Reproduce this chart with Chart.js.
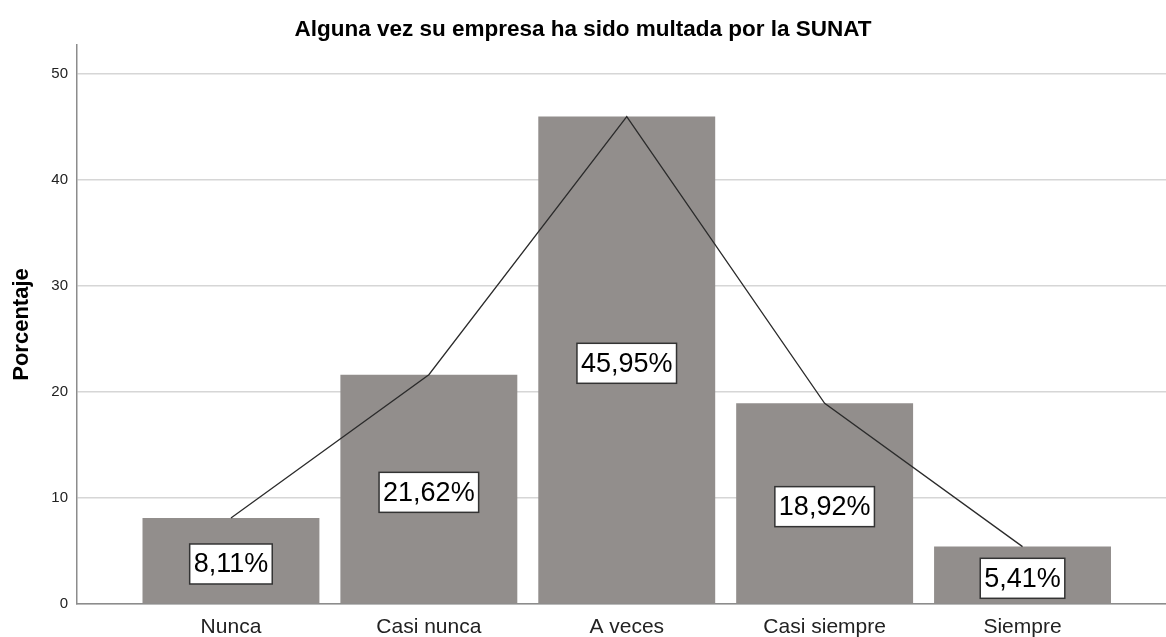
<!DOCTYPE html>
<html>
<head>
<meta charset="utf-8">
<script src="https://cdn.jsdelivr.net/npm/chart.js@4.4.1/dist/chart.umd.min.js"></script>
<style>
  html, body { margin: 0; padding: 0; background: #fff; }
  #wrap { width: 1166px; height: 637px; }
</style>
</head>
<body>
<div id="wrap"><canvas id="multaChart"></canvas></div>
<script>
// Alguna vez su empresa ha sido multada por la SUNAT
var categories = ['Nunca', 'Casi nunca', 'A veces', 'Casi siempre', 'Siempre'];
var percentages = [8.11, 21.62, 45.95, 18.92, 5.41];
var yTicks = [0, 10, 20, 30, 40, 50];

var points = categories.map(function (c, i) {
  return { x: i, y: percentages[i] };
});

// white boxes with the percentage, centred in each bar
var boxLabels = {
  id: 'boxLabels',
  afterDatasetsDraw: function (chart) {
    var ctx = chart.ctx;
    var xs = chart.scales.x, ys = chart.scales.y;
    ctx.save();
    ctx.font = '27px "Liberation Sans", Arial, sans-serif';
    ctx.textAlign = 'center';
    ctx.textBaseline = 'middle';
    percentages.forEach(function (v, i) {
      var txt = v.toFixed(2).replace('.', ',') + '%';
      var cx = xs.getPixelForValue(i);
      var cy = ys.getPixelForValue(v / 2) + 3;
      var w = ctx.measureText(txt).width + 8;
      var h = 40;
      ctx.fillStyle = '#ffffff';
      ctx.fillRect(cx - w / 2, cy - h / 2, w, h);
      ctx.strokeStyle = '#333333';
      ctx.lineWidth = 1.5;
      ctx.strokeRect(cx - w / 2, cy - h / 2, w, h);
      ctx.fillStyle = '#000000';
      ctx.fillText(txt, cx, cy + 1);
    });
    ctx.restore();
  }
};

var ctx = document.getElementById('multaChart').getContext('2d');
var chartMulta = new Chart(ctx, {
  type: 'bar',
  data: {
    datasets: [{
      type: 'line',
      data: points,
      borderColor: '#2b2b2b',
      borderWidth: 1.3,
      pointRadius: 0,
      tension: 0,
      fill: false,
      order: 0
    }, {
      type: 'bar',
      data: points,
      backgroundColor: '#928e8c',
      borderWidth: 0,
      barPercentage: 0.894,
      categoryPercentage: 1,
      order: 1
    }]
  },
  options: {
    responsive: true,
    maintainAspectRatio: false,
    animation: false,
    layout: { padding: 0 },
    plugins: {
      legend: { display: false },
      tooltip: { enabled: false },
      title: {
        display: true,
        text: 'Alguna vez su empresa ha sido multada por la SUNAT',
        color: '#000',
        font: { family: '"Liberation Sans", Arial, sans-serif', size: 22.5, weight: 'bold' },
        padding: { top: 16, bottom: 2 }
      }
    },
    scales: {
      x: {
        type: 'linear',
        offset: false,
        min: -0.778,
        max: 4.725,
        grid: { display: false, drawTicks: false, offset: false },
        border: { display: true, color: '#8c8c8c', width: 1.5 },
        afterBuildTicks: function (scale) {
          scale.ticks = categories.map(function (c, i) { return { value: i }; });
        },
        afterFit: function (scale) { scale.height = 33; },
        ticks: {
          padding: 11,
          color: '#222',
          font: { family: '"Liberation Sans", Arial, sans-serif', size: 21 },
          callback: function (value, index) { return categories[index]; }
        }
      },
      y: {
        min: 0,
        max: 52.7,
        grid: { color: '#d6d6d6', lineWidth: 1.5, drawTicks: false },
        border: { display: true, color: '#8c8c8c', width: 1.5 },
        afterBuildTicks: function (scale) {
          scale.ticks = yTicks.map(function (v) { return { value: v }; });
        },
        afterFit: function (scale) { scale.width = 77; },
        ticks: {
          padding: 9,
          color: '#222',
          font: { family: '"Liberation Sans", Arial, sans-serif', size: 15 }
        },
        title: {
          display: true,
          text: 'Porcentaje',
          color: '#000',
          padding: { top: 9, bottom: 0 },
          font: { family: '"Liberation Sans", Arial, sans-serif', size: 22, weight: 'bold' }
        }
      }
    }
  },
  plugins: [boxLabels]
});
</script>
</body>
</html>
